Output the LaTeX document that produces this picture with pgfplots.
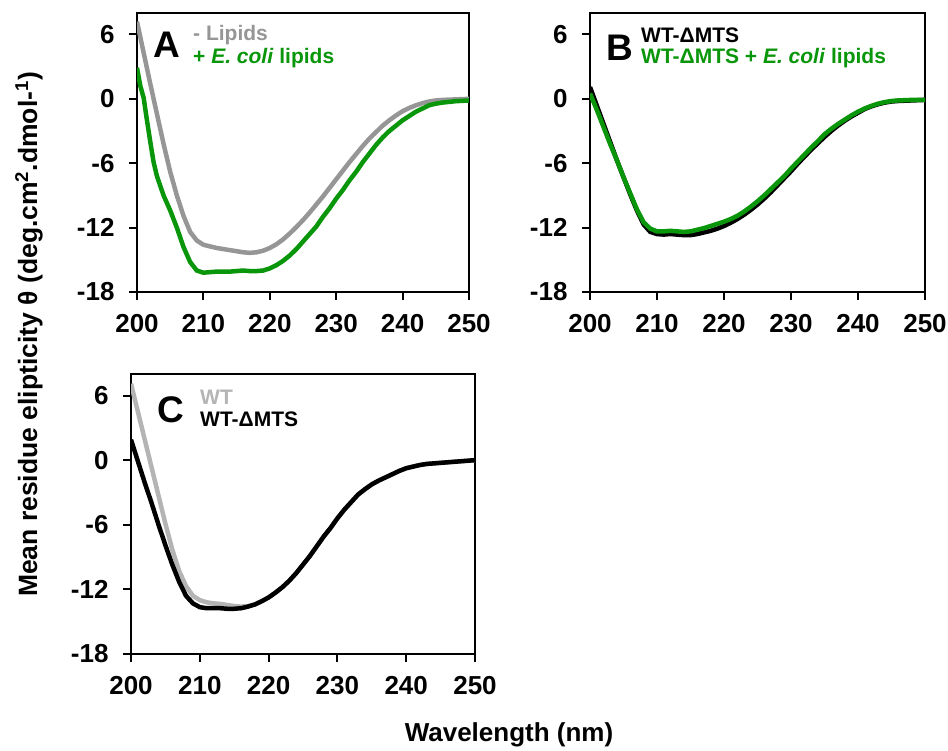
\documentclass[border=0pt]{standalone}
\usepackage{fontspec}
\setmainfont{Liberation Sans}
\usepackage{pgfplots}
\pgfplotsset{compat=1.18}
\definecolor{cgray}{RGB}{150,150,150}
\definecolor{cgreen}{RGB}{10,150,10}
\definecolor{clgray}{RGB}{180,180,180}
\pgfplotsset{panel/.style={
  scale only axis, width=332pt, height=279pt,
  xmin=200, xmax=250, ymin=-18, ymax=8,
  xtick={200,210,220,230,240,250}, xticklabels={200,210,220,230,240,250},
  ytick={-18,-12,-6,0,6}, yticklabels={-18,-12,-6,0,6},
  tick align=outside, tick pos=left, major tick length=8pt,
  axis line style={line width=2.5pt},
  every tick/.style={black, line width=2pt},
  ticklabel style={font=\fontsize{26}{26}\selectfont\bfseries},
  xticklabel style={yshift=-11pt},
  yticklabel style={xshift=-11pt},
  anchor=south west,
}}
\begin{document}
\begin{tikzpicture}[x=1pt,y=1pt]
\useasboundingbox (0,0) rectangle (948,750);
% Panel A
\begin{axis}[panel, at={(137pt,458pt)}]
\addplot[cgray, line width=4.5pt] coordinates {
(200,7.2)(201,4.3)(202,1.4)(203,-1.4)(204,-4.2)(205,-6.8)(206,-9.0)(207,-10.9)(208,-12.4)(209,-13.2)(210,-13.6)(211,-13.75)(212,-13.9)(213,-14.0)(214,-14.1)(215,-14.2)(216,-14.3)(217,-14.35)(218,-14.3)(219,-14.15)(220,-13.9)(221,-13.55)(222,-13.1)(223,-12.55)(224,-11.95)(225,-11.3)(226,-10.6)(227,-9.85)(228,-9.1)(229,-8.3)(230,-7.5)(231,-6.7)(232,-5.9)(233,-5.15)(234,-4.4)(235,-3.7)(236,-3.1)(237,-2.5)(238,-2.0)(239,-1.55)(240,-1.15)(241,-0.85)(242,-0.6)(243,-0.4)(244,-0.25)(245,-0.15)(246,-0.1)(248,-0.05)(250,0)};
\addplot[cgreen, line width=4.5pt] coordinates {
(200,2.9)(200.5,1.2)(201,0.1)(201.5,-2.0)(202,-4.0)(202.5,-5.9)(203,-7.2)(204,-9.0)(205,-10.4)(206,-12.0)(207,-13.8)(208,-15.2)(209,-16.0)(210,-16.2)(211,-16.15)(212,-16.1)(213,-16.1)(214,-16.1)(215,-16.05)(216,-16.0)(217,-16.05)(218,-16.05)(219,-16.0)(220,-15.8)(221,-15.5)(222,-15.1)(223,-14.6)(224,-14.0)(225,-13.3)(226,-12.6)(227,-11.9)(228,-11.0)(229,-10.2)(230,-9.3)(231,-8.5)(232,-7.6)(233,-6.8)(234,-5.9)(235,-5.1)(236,-4.3)(237,-3.6)(238,-3.0)(239,-2.5)(240,-2.0)(241,-1.6)(242,-1.2)(243,-0.9)(244,-0.6)(245,-0.45)(246,-0.35)(248,-0.22)(250,-0.15)};
\end{axis}
% Panel B
\begin{axis}[panel, at={(590pt,458pt)}, width=335pt]
\addplot[black, line width=4.5pt] coordinates {
(200,1.1)(201,-0.6)(202,-2.3)(203,-4.0)(204,-5.7)(205,-7.3)(206,-8.9)(207,-10.4)(208,-11.7)(209,-12.4)(210,-12.6)(211,-12.65)(212,-12.6)(213,-12.65)(214,-12.7)(215,-12.7)(216,-12.6)(217,-12.45)(218,-12.3)(219,-12.1)(220,-11.85)(221,-11.55)(222,-11.2)(223,-10.8)(224,-10.35)(225,-9.85)(226,-9.3)(227,-8.7)(228,-8.05)(229,-7.4)(230,-6.75)(231,-6.05)(232,-5.4)(233,-4.75)(234,-4.15)(235,-3.55)(236,-3.0)(237,-2.5)(238,-2.05)(239,-1.65)(240,-1.3)(241,-0.95)(242,-0.7)(243,-0.5)(244,-0.35)(245,-0.25)(246,-0.2)(248,-0.15)(250,-0.1)};
\addplot[cgreen, line width=4.5pt] coordinates {
(200,0.5)(201,-1.0)(202,-2.6)(203,-4.2)(204,-5.7)(205,-7.3)(206,-8.8)(207,-10.3)(208,-11.5)(209,-12.1)(210,-12.35)(211,-12.35)(212,-12.3)(213,-12.35)(214,-12.4)(215,-12.35)(216,-12.2)(217,-12.05)(218,-11.85)(219,-11.65)(220,-11.45)(221,-11.2)(222,-10.9)(223,-10.5)(224,-10.05)(225,-9.55)(226,-9.0)(227,-8.4)(228,-7.8)(229,-7.2)(230,-6.5)(231,-5.85)(232,-5.2)(233,-4.55)(234,-3.95)(235,-3.3)(236,-2.8)(237,-2.35)(238,-1.95)(239,-1.55)(240,-1.2)(241,-0.9)(242,-0.65)(243,-0.45)(244,-0.3)(245,-0.2)(246,-0.15)(248,-0.1)(250,-0.1)};
\end{axis}
% Panel C
\begin{axis}[panel, at={(131pt,96pt)}, width=344pt, height=280pt]
\addplot[clgray, line width=4.5pt] coordinates {
(200,7.1)(201,4.5)(202,1.9)(203,-0.7)(204,-3.3)(205,-5.9)(206,-8.3)(207,-10.3)(208,-11.7)(209,-12.6)(210,-13.0)(211,-13.2)(212,-13.3)(213,-13.35)(214,-13.45)(215,-13.55)(216,-13.6)(217,-13.55)(218,-13.4)(219,-13.1)(220,-12.75)(221,-12.3)(222,-11.8)(223,-11.2)(224,-10.5)(225,-9.7)(226,-8.9)(227,-8.0)(228,-7.1)(229,-6.3)(230,-5.4)(231,-4.6)(232,-3.9)(233,-3.2)(234,-2.7)(235,-2.25)(236,-1.9)(237,-1.6)(238,-1.3)(239,-1.0)(240,-0.75)(241,-0.6)(242,-0.45)(243,-0.35)(244,-0.3)(246,-0.2)(248,-0.1)(250,0)};
\addplot[black, line width=4.5pt] coordinates {
(200,1.9)(201,-0.1)(202,-2.1)(203,-4.0)(204,-6.0)(205,-7.9)(206,-9.7)(207,-11.3)(208,-12.6)(209,-13.3)(210,-13.65)(211,-13.75)(212,-13.75)(213,-13.75)(214,-13.8)(215,-13.8)(216,-13.75)(217,-13.6)(218,-13.4)(219,-13.1)(220,-12.75)(221,-12.3)(222,-11.8)(223,-11.2)(224,-10.5)(225,-9.7)(226,-8.9)(227,-8.0)(228,-7.1)(229,-6.3)(230,-5.4)(231,-4.6)(232,-3.9)(233,-3.2)(234,-2.7)(235,-2.25)(236,-1.9)(237,-1.6)(238,-1.3)(239,-1.0)(240,-0.75)(241,-0.6)(242,-0.45)(243,-0.35)(244,-0.3)(246,-0.2)(248,-0.1)(250,0)};
\end{axis}
% Panel labels and legends
\node[font=\fontsize{37}{37}\selectfont\bfseries] at (166.5,705) {A};
\node[anchor=west, font=\fontsize{21}{21}\selectfont\bfseries, text=cgray, inner sep=0] at (193,715) {- Lipids};
\node[anchor=west, font=\fontsize{21}{21}\selectfont\bfseries, text=cgreen, inner sep=0] at (193,692) {+ \textit{E. coli} lipids};
\node[font=\fontsize{37}{37}\selectfont\bfseries] at (619.5,702.5) {B};
\node[anchor=west, font=\fontsize{21}{21}\selectfont\bfseries, text=black, inner sep=0] at (641,715) {WT-ΔMTS};
\node[anchor=west, font=\fontsize{21}{21}\selectfont\bfseries, text=cgreen, inner sep=0] at (641,692) {WT-ΔMTS + \textit{E. coli} lipids};
\node[font=\fontsize{37}{37}\selectfont\bfseries] at (171,340) {C};
\node[anchor=west, font=\fontsize{21}{21}\selectfont\bfseries, text=clgray, inner sep=0] at (200,353) {WT};
\node[anchor=west, font=\fontsize{21}{21}\selectfont\bfseries, text=black, inner sep=0] at (200,331) {WT-ΔMTS};
% Axis titles
\node[rotate=90, font=\fontsize{26.5}{26.5}\selectfont\bfseries] at (29,415.5) {Mean residue elipticity θ (deg.cm\textsuperscript{2}.dmol-\textsuperscript{1})};
\node[font=\fontsize{26}{26}\selectfont\bfseries] at (509,15) {Wavelength (nm)};
\end{tikzpicture}
\end{document}
